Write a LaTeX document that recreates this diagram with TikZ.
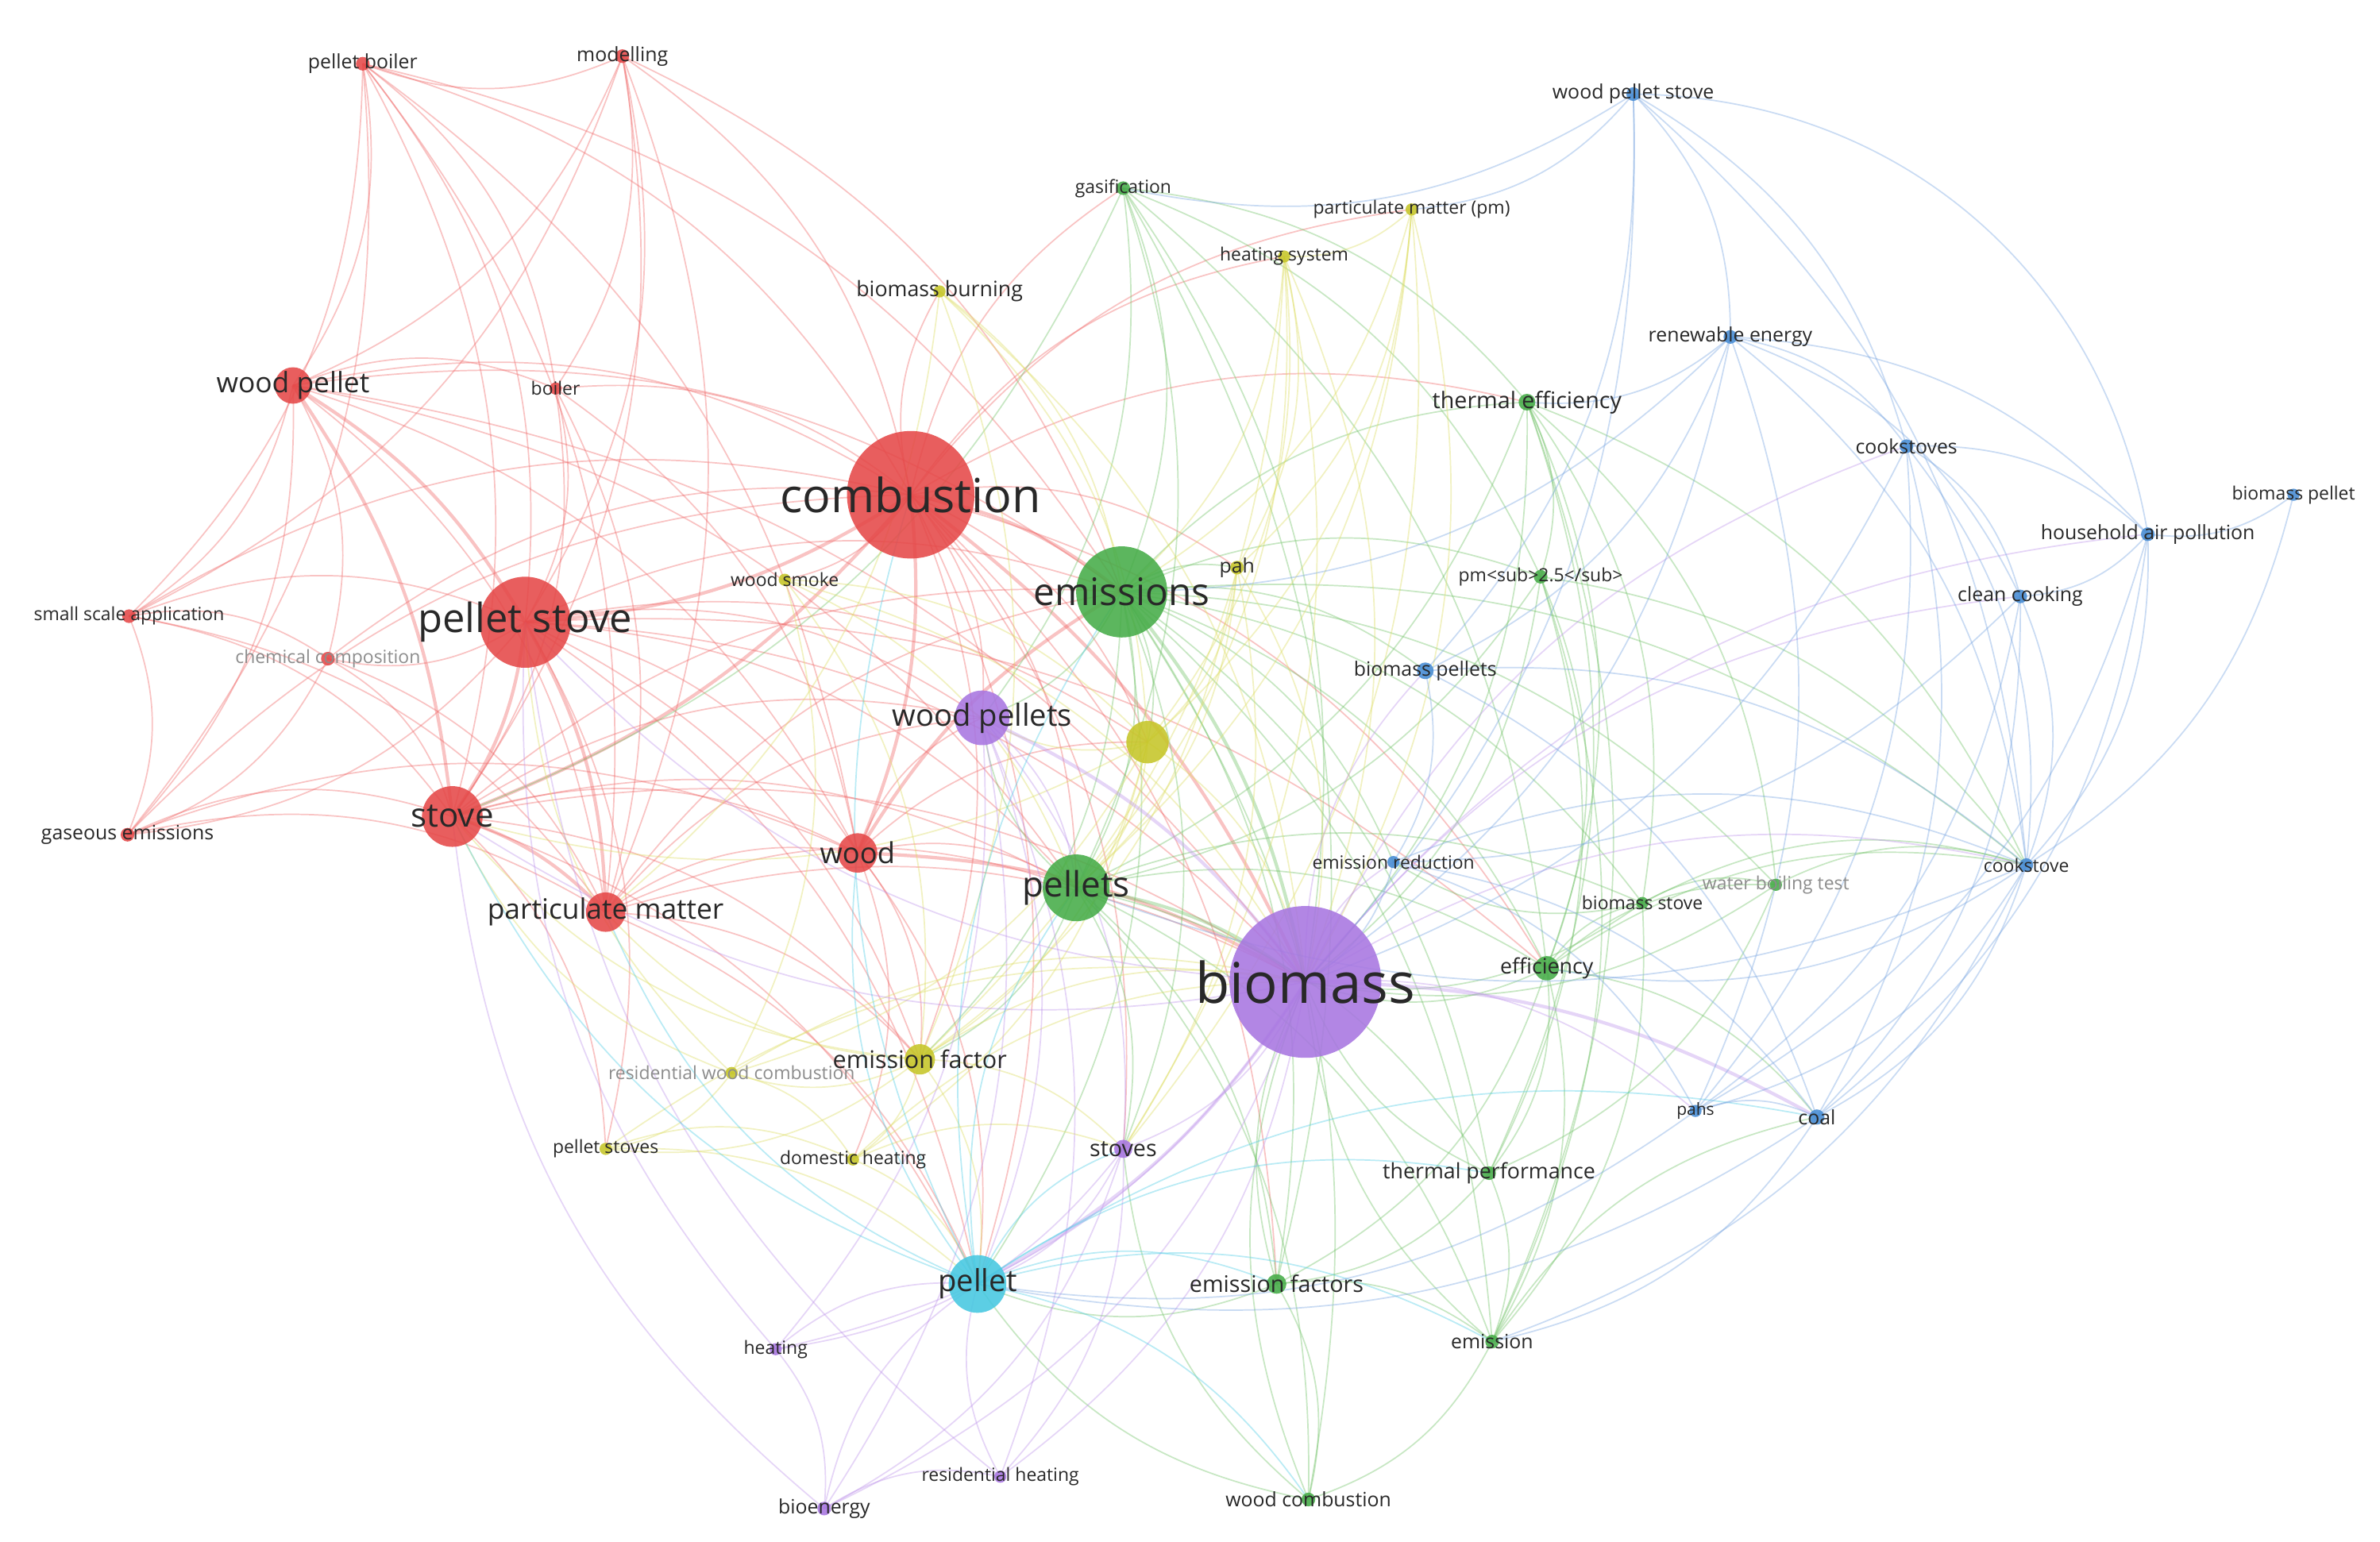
\documentclass[tikz,border=0pt]{standalone}
\usepackage{fontspec}
\setmainfont{Open Sans}
\usetikzlibrary{backgrounds}
\definecolor{nred}{RGB}{229,72,72}
\definecolor{ngreen}{RGB}{70,172,72}
\definecolor{nyel}{RGB}{198,198,40}
\definecolor{npur}{RGB}{168,118,225}
\definecolor{ncyan}{RGB}{70,200,225}
\definecolor{nblue}{RGB}{70,140,212}
\definecolor{ered}{RGB}{240,105,105}
\definecolor{egreen}{RGB}{115,195,105}
\definecolor{eyel}{RGB}{222,222,100}
\definecolor{epur}{RGB}{192,150,235}
\definecolor{ecyan}{RGB}{80,205,230}
\definecolor{eblue}{RGB}{120,165,225}
\definecolor{lbl}{RGB}{40,40,40}
\definecolor{lblg}{RGB}{140,140,140}
\newcommand\fsz[1]{\fontsize{#1}{#1}\selectfont}
\tikzset{
  nc/.style={circle,inner sep=0pt,draw=none,fill opacity=0.88},
  lb/.style={inner sep=0pt,text=lbl},
  lbg/.style={inner sep=0pt,text=lblg},
  ed/.style={line width=0.9pt,draw opacity=0.4},
  edh/.style={line width=2.2pt,draw opacity=0.4},
}
\begin{document}
\begin{tikzpicture}[x=1pt,y=-1pt]
\useasboundingbox (0,0) rectangle (1568,1016);
% ---------- circles ----------
% red
\node[nc,fill=nred,minimum size=9] (pboil) at (239,42) {};
\node[nc,fill=nred,minimum size=9] (model) at (410,37) {};
\node[nc,fill=nred,minimum size=24] (wpel) at (193,254) {};
\node[nc,fill=nred,minimum size=8] (boil) at (366,256) {};
\node[nc,fill=nred,minimum size=84] (comb) at (600,326) {};
\node[nc,fill=nred,minimum size=9] (ssa) at (85,406) {};
\node[nc,fill=nred,minimum size=60] (pst) at (346,410) {};
\node[nc,fill=nred,minimum size=9] (chem) at (216,434) {};
\node[nc,fill=nred,minimum size=9] (gas) at (84,550) {};
\node[nc,fill=nred,minimum size=40] (stove) at (298,538) {};
\node[nc,fill=nred,minimum size=26] (pm) at (399,601) {};
\node[nc,fill=nred,minimum size=26] (wood) at (565,562) {};
% green
\node[nc,fill=ngreen,minimum size=9] (gasif) at (740,124) {};
\node[nc,fill=ngreen,minimum size=60] (emis) at (739,390) {};
\node[nc,fill=ngreen,minimum size=11] (theff) at (1006,265) {};
\node[nc,fill=ngreen,minimum size=9] (pm25) at (1015,380) {};
\node[nc,fill=ngreen,minimum size=44] (pels) at (709,585) {};
\node[nc,fill=ngreen,minimum size=16] (eff) at (1019,638) {};
\node[nc,fill=ngreen,minimum size=8] (bst) at (1082,595) {};
\node[nc,fill=ngreen,minimum size=8] (wbt) at (1170,583) {};
\node[nc,fill=ngreen,minimum size=9] (thp) at (981,773) {};
\node[nc,fill=ngreen,minimum size=13] (efs) at (841,846) {};
\node[nc,fill=ngreen,minimum size=9] (emn) at (983,884) {};
\node[nc,fill=ngreen,minimum size=9] (wcomb) at (862,988) {};
% yellow
\node[nc,fill=nyel,minimum size=8] (pmpm) at (930,138) {};
\node[nc,fill=nyel,minimum size=8] (hsys) at (846,169) {};
\node[nc,fill=nyel,minimum size=8] (bburn) at (619,192) {};
\node[nc,fill=nyel,minimum size=9] (pah) at (815,374) {};
\node[nc,fill=nyel,minimum size=8] (wsm) at (517,382) {};
\node[nc,fill=nyel,minimum size=28] (unk) at (756,489) {};
\node[nc,fill=nyel,minimum size=20] (ef) at (606,698) {};
\node[nc,fill=nyel,minimum size=8] (rwc) at (482,707) {};
\node[nc,fill=nyel,minimum size=8] (psts) at (399,757) {};
\node[nc,fill=nyel,minimum size=8] (dh) at (562,764) {};
% purple
\node[nc,fill=npur,minimum size=36] (wpels) at (647,473) {};
\node[nc,fill=npur,minimum size=100] (bio) at (860,647) {};
\node[nc,fill=npur,minimum size=12] (stoves) at (740,757) {};
\node[nc,fill=npur,minimum size=8] (heat) at (511,889) {};
\node[nc,fill=npur,minimum size=9] (bioen) at (543,994) {};
\node[nc,fill=npur,minimum size=8] (resh) at (659,973) {};
% cyan
\node[nc,fill=ncyan,minimum size=38] (pellet) at (644,846) {};
% blue
\node[nc,fill=nblue,minimum size=9] (wpst) at (1076,62) {};
\node[nc,fill=nblue,minimum size=9] (renew) at (1140,222) {};
\node[nc,fill=nblue,minimum size=9] (cks) at (1256,294) {};
\node[nc,fill=nblue,minimum size=8] (bpel) at (1511,326) {};
\node[nc,fill=nblue,minimum size=9] (hap) at (1415,352) {};
\node[nc,fill=nblue,minimum size=9] (cc) at (1331,393) {};
\node[nc,fill=nblue,minimum size=11] (bpels) at (939,442) {};
\node[nc,fill=nblue,minimum size=8] (er) at (918,568) {};
\node[nc,fill=nblue,minimum size=9] (ck) at (1335,570) {};
\node[nc,fill=nblue,minimum size=8] (pahs) at (1117,732) {};
\node[nc,fill=nblue,minimum size=10] (coal) at (1197,736) {};
% ---------- edges ----------
\begin{scope}[on background layer]
\fill[white] (0,0) rectangle (1568,1016);
\foreach \a/\b in {pboil/wpel,pboil/pst,pboil/stove,pboil/comb,pboil/pm,pboil/ssa,pboil/gas,pboil/boil,pboil/wood,pboil/emis,
 model/wpel,model/pst,model/stove,model/comb,model/boil,model/pm,model/ssa,model/emis,model/pboil,
 wpel/comb,wpel/pm,wpel/ssa,wpel/gas,wpel/chem,wpel/boil,wpel/wood,wpel/emis,wpel/pels,wpel/bio,
 boil/pst,boil/stove,boil/comb,boil/pm,boil/wood,
 comb/pels,comb/wpels,comb/ef,comb/pellet,comb/gasif,comb/bburn,comb/hsys,comb/wsm,comb/pah,comb/eff,comb/theff,comb/unk,comb/efs,comb/stoves,comb/pmpm,
 ssa/pst,ssa/stove,ssa/chem,ssa/gas,ssa/pm,ssa/comb,
 pst/chem,pst/gas,pst/wood,pst/emis,pst/pels,pst/bio,pst/wpels,pst/ef,pst/pellet,pst/psts,pst/unk,pst/eff,
 chem/stove,chem/pm,chem/gas,chem/comb,
 gas/stove,gas/pm,gas/comb,gas/wood,
 stove/wood,stove/emis,stove/bio,stove/pels,stove/pellet,stove/ef,stove/psts,stove/wpels,
 pm/wood,pm/bio,pm/ef,pm/pels,pm/emis,pm/pellet,pm/wpels,
 wood/pels,wood/ef,wood/wpels,wood/pellet,wood/dh,wood/unk}
 \draw[ed,ered] (\a.center) to[bend left=22] (\b.center);
\foreach \a/\b in {comb/pst,comb/stove,pst/stove,pst/pm,stove/pm,wpel/pst,wpel/stove,comb/wood,comb/emis,comb/bio,wood/bio,wood/emis}
 \draw[edh,ered] (\a.center) to[bend left=14] (\b.center);
\foreach \a/\b in {gasif/emis,gasif/pels,gasif/bio,gasif/theff,gasif/eff,gasif/pm25,gasif/wpels,gasif/stove,gasif/efs,
 emis/pels,emis/theff,emis/eff,emis/bst,emis/wbt,emis/ef,emis/efs,emis/thp,emis/emn,emis/pm25,emis/pah,emis/wpels,emis/unk,emis/ck,emis/er,emis/bpels,emis/pellet,emis/stoves,emis/wcomb,
 theff/bio,theff/eff,theff/bst,theff/wbt,theff/pels,theff/ck,theff/pm25,theff/thp,theff/emn,
 pm25/bio,pm25/eff,pm25/emn,pm25/ck,pm25/thp,pm25/pels,
 pels/eff,pels/efs,pels/emn,pels/wcomb,pels/thp,pels/stoves,pels/ef,pels/wpels,pels/bst,
 eff/bio,eff/bst,eff/wbt,eff/thp,eff/ck,eff/emn,eff/coal,eff/efs,
 bst/wbt,bst/bio,bst/ck,bst/er,bst/emn,
 wbt/ck,wbt/bio,wbt/thp,
 thp/bio,thp/emn,thp/efs,
 efs/bio,efs/wcomb,efs/emn,efs/pellet,
 emn/bio,emn/wcomb,emn/coal,
 wcomb/bio,wcomb/pellet,wcomb/stoves}
 \draw[ed,egreen] (\a.center) to[bend left=22] (\b.center);
\foreach \a/\b in {emis/bio,pels/bio}
 \draw[edh,egreen] (\a.center) to[bend left=14] (\b.center);
\foreach \a/\b in {pmpm/hsys,pmpm/bio,pmpm/emis,pmpm/pah,pmpm/unk,pmpm/pels,pmpm/stoves,
 hsys/bio,hsys/pah,hsys/emis,hsys/unk,hsys/pels,hsys/ef,hsys/stoves,
 bburn/bio,bburn/unk,bburn/emis,bburn/ef,bburn/pm,
 pah/bio,pah/unk,pah/pels,pah/ef,pah/stoves,
 wsm/unk,wsm/ef,wsm/bio,wsm/rwc,wsm/pels,
 unk/bio,unk/ef,unk/pels,unk/wpels,unk/rwc,unk/dh,unk/stove,
 ef/bio,ef/rwc,ef/dh,ef/psts,ef/pellet,ef/stoves,ef/pm,ef/stove,
 rwc/psts,rwc/dh,rwc/bio,rwc/pst,rwc/stove,
 psts/pellet,psts/bio,psts/dh,
 dh/pellet,dh/bio,dh/stoves}
 \draw[ed,eyel] (\a.center) to[bend left=22] (\b.center);
\foreach \a/\b in {wpels/stoves,wpels/pellet,wpels/heat,wpels/bioen,wpels/pels,wpels/resh,
 bio/stoves,bio/bioen,bio/heat,bio/resh,bio/pahs,bio/ck,bio/cc,bio/hap,bio/er,bio/bpels,bio/cks,bio/stove,bio/pst,
 stoves/bioen,stoves/resh,stoves/pellet,stoves/heat,
 heat/bioen,heat/pellet,heat/pst,
 bioen/resh,bioen/pellet,bioen/stove,
 resh/pellet,resh/pst}
 \draw[ed,epur] (\a.center) to[bend left=22] (\b.center);
\foreach \a/\b in {wpels/bio,bio/pellet,bio/coal}
 \draw[edh,epur] (\a.center) to[bend left=14] (\b.center);
\foreach \a/\b in {pellet/stoves,pellet/wood,pellet/pm,pellet/stove,pellet/comb,pellet/emis,pellet/pels,pellet/efs,pellet/emn,pellet/wcomb,pellet/thp,pellet/coal}
 \draw[ed,ecyan] (\a.center) to[bend left=22] (\b.center);
\foreach \a/\b in {wpst/renew,wpst/cks,wpst/bio,wpst/bpels,wpst/gasif,wpst/ck,wpst/pmpm,
 renew/cks,renew/hap,renew/cc,renew/ck,renew/bio,renew/bpels,renew/emis,renew/pahs,renew/theff,
 cks/hap,cks/cc,cks/ck,cks/bio,cks/coal,cks/pahs,
 bpel/hap,bpel/ck,
 hap/cc,hap/ck,hap/coal,hap/pahs,
 cc/ck,cc/coal,cc/pahs,cc/er,
 bpels/ck,bpels/er,bpels/coal,
 er/bio,er/ck,er/coal,er/pahs,
 ck/coal,ck/pahs,ck/emn,ck/eff,ck/pels,
 pahs/coal,pahs/pellet,
 coal/emn,coal/pellet}
 \draw[ed,eblue] (\a.center) to[bend left=22] (\b.center);
\draw[ed,eblue] (wpst.center) to[bend left=40] (hap.center);
\end{scope}
% ---------- labels ----------
\node[lb,font=\fsz{13}] (pboil-l) at (pboil) {pellet boiler};
\node[lb,font=\fsz{13}] (model-l) at (model) {modelling};
\node[lb,font=\fsz{18.5}] (wpel-l) at (wpel) {wood pellet};
\node[lb,font=\fsz{12}] (boil-l) at (boil) {boiler};
\node[lb,font=\fsz{31}] (comb-l) at (comb) {combustion};
\node[lb,font=\fsz{12}] (ssa-l) at (ssa) {small scale application};
\node[lb,font=\fsz{26.5}] (pst-l) at (pst) {pellet stove};
\node[lbg,font=\fsz{12}] (chem-l) at (chem) {chemical composition};
\node[lb,font=\fsz{13}] (gas-l) at (gas) {gaseous emissions};
\node[lb,font=\fsz{22}] (stove-l) at (stove) {stove};
\node[lb,font=\fsz{18.5}] (pm-l) at (pm) {particulate matter};
\node[lb,font=\fsz{19}] (wood-l) at (wood) {wood};
\node[lb,font=\fsz{12}] (gasif-l) at (gasif) {gasification};
\node[lb,font=\fsz{25}] (emis-l) at (emis) {emissions};
\node[lb,font=\fsz{15}] (theff-l) at (theff) {thermal efficiency};
\node[lb,font=\fsz{12}] (pm25-l) at (pm25) {pm<sub>2.5</sub>};
\node[lb,font=\fsz{23}] (pels-l) at (pels) {pellets};
\node[lb,font=\fsz{14}] (eff-l) at (eff) {efficiency};
\node[lb,font=\fsz{12}] (bst-l) at (bst) {biomass stove};
\node[lbg,font=\fsz{12}] (wbt-l) at (wbt) {water boiling test};
\node[lb,font=\fsz{14}] (thp-l) at (thp) {thermal performance};
\node[lb,font=\fsz{15}] (efs-l) at (efs) {emission factors};
\node[lb,font=\fsz{13}] (emn-l) at (emn) {emission};
\node[lb,font=\fsz{13}] (wcomb-l) at (wcomb) {wood combustion};
\node[lb,font=\fsz{12}] (pmpm-l) at (pmpm) {particulate matter (pm)};
\node[lb,font=\fsz{12}] (hsys-l) at (hsys) {heating system};
\node[lb,font=\fsz{14}] (bburn-l) at (bburn) {biomass burning};
\node[lb,font=\fsz{13}] (pah-l) at (pah) {pah};
\node[lb,font=\fsz{12}] (wsm-l) at (wsm) {wood smoke};
\node[lb,font=\fsz{16}] (ef-l) at (ef) {emission factor};
\node[lbg,font=\fsz{12}] (rwc-l) at (rwc) {residential wood combustion};
\node[lb,font=\fsz{12}] (psts-l) at (psts) {pellet stoves};
\node[lb,font=\fsz{12}] (dh-l) at (dh) {domestic heating};
\node[lb,font=\fsz{20}] (wpels-l) at (wpels) {wood pellets};
\node[lb,font=\fsz{37}] (bio-l) at (bio) {biomass};
\node[lb,font=\fsz{15}] (stoves-l) at (stoves) {stoves};
\node[lb,font=\fsz{12}] (heat-l) at (heat) {heating};
\node[lb,font=\fsz{13}] (bioen-l) at (bioen) {bioenergy};
\node[lb,font=\fsz{12}] (resh-l) at (resh) {residential heating};
\node[lb,font=\fsz{20}] (pellet-l) at (pellet) {pellet};
\node[lb,font=\fsz{13}] (wpst-l) at (wpst) {wood pellet stove};
\node[lb,font=\fsz{13}] (renew-l) at (renew) {renewable energy};
\node[lb,font=\fsz{13}] (cks-l) at (cks) {cookstoves};
\node[lb,font=\fsz{12}] (bpel-l) at (bpel) {biomass pellet};
\node[lb,font=\fsz{13}] (hap-l) at (hap) {household air pollution};
\node[lb,font=\fsz{13}] (cc-l) at (cc) {clean cooking};
\node[lb,font=\fsz{13}] (bpels-l) at (bpels) {biomass pellets};
\node[lb,font=\fsz{12}] (er-l) at (er) {emission reduction};
\node[lb,font=\fsz{12}] (ck-l) at (ck) {cookstove};
\node[lb,font=\fsz{11}] (pahs-l) at (pahs) {pahs};
\node[lb,font=\fsz{13}] (coal-l) at (coal) {coal};
\end{tikzpicture}
\end{document}
